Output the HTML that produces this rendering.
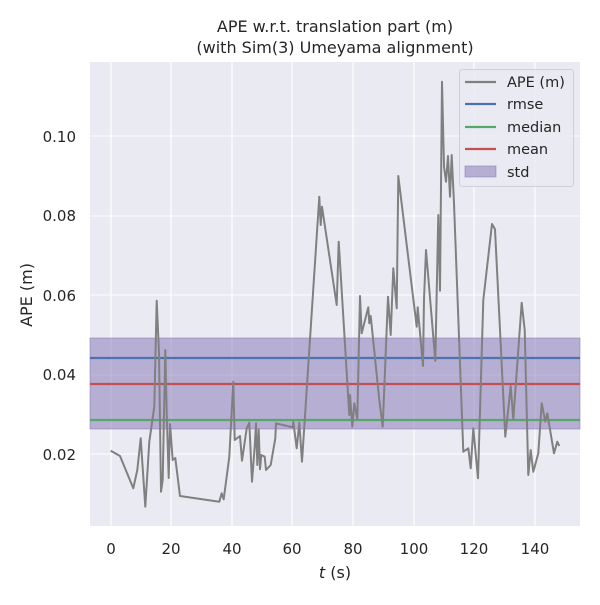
<!DOCTYPE html>
<html><head><style>body{margin:0;background:#fff}svg text{font-family:"DejaVu Sans","Liberation Sans",sans-serif}</style></head><body>
<svg width="600" height="600" xmlns="http://www.w3.org/2000/svg">
<rect x="0" y="0" width="600" height="600" fill="#fff"/>
<rect x="90" y="62" width="490" height="464" fill="#eaeaf2"/>
<g stroke="#fff" stroke-width="1.1">
<line x1="111" y1="62" x2="111" y2="526"/><line x1="171" y1="62" x2="171" y2="526"/><line x1="232" y1="62" x2="232" y2="526"/><line x1="292" y1="62" x2="292" y2="526"/><line x1="353" y1="62" x2="353" y2="526"/><line x1="414" y1="62" x2="414" y2="526"/><line x1="474" y1="62" x2="474" y2="526"/><line x1="535" y1="62" x2="535" y2="526"/>
<line x1="90" y1="454" x2="580" y2="454"/><line x1="90" y1="375" x2="580" y2="375"/><line x1="90" y1="295" x2="580" y2="295"/><line x1="90" y1="216" x2="580" y2="216"/><line x1="90" y1="136" x2="580" y2="136"/>
</g>
<rect x="90" y="338" width="490" height="91" fill="#8172b3" fill-opacity="0.5" stroke="#8172b3" stroke-opacity="0.5"/>
<line x1="90" y1="358" x2="580" y2="358" stroke="#4c72b0" stroke-width="2.2"/>
<line x1="90" y1="420" x2="580" y2="420" stroke="#55a868" stroke-width="2.2"/>
<line x1="90" y1="384" x2="580" y2="384" stroke="#c44e52" stroke-width="2.2"/>
<polyline fill="none" stroke="#808080" stroke-width="2" stroke-linejoin="round" points="110.7,450.7 120,456 133.3,488.3 137.3,470 140.7,438.3 145.3,506.7 149.3,441.7 154.3,406.7 156.7,300.7 159,353 161,491.7 162.7,480 165.3,350 166.7,413 168.7,478 170,424 172.7,460 175.3,458 180,496 219.3,501.7 221.7,493.3 223.7,499.3 229.3,456.7 233.3,381.7 234.7,440 240,436 242,460.7 246.7,428.3 249.3,422.7 252,481.7 254.7,446.7 256,423.3 257.3,465 258.7,429.3 260,469.3 261.3,455 264.7,456.7 266,470 270.7,465 275.3,438.3 276,423.3 292.7,427.3 293.3,421.7 296.7,448.3 299.3,422.7 302,461.7 319.3,196.7 320.7,225 322,206.7 336.7,305 338.7,241.7 349.3,415 350,395 352.3,426.7 354.3,403.3 357.3,419.3 360,296 361.7,333.3 368.3,307.3 369.3,323.3 370.7,316 379.3,400 382.7,426.7 388,296.7 390.7,335 393.3,268.3 396.7,308.3 398.3,176 416.7,326.7 417.7,307.3 423,366 424,299.3 426,250 435.3,360.7 438.3,215 440,290.7 442,81.7 444,166.7 446,181.7 448,156 450,196.7 451.7,155 454,203.3 463.3,451.7 468.3,448.3 470.7,468.3 473.3,428.3 478,478.3 483.3,300 492,224 495,229.3 505.3,436.7 510.7,386 513.3,419.3 521.7,302.7 524.7,330 528.3,475 530.7,450 533.3,471.7 538.3,453.3 541.7,403.3 545.3,421.7 547.3,413.3 554,453.3 557.3,441.7 559.3,446"/>
<g font-size="15" fill="#262626" text-anchor="middle">
<text x="111" y="554">0</text><text x="171" y="554">20</text><text x="232" y="554">40</text><text x="292" y="554">60</text><text x="353" y="554">80</text><text x="414" y="554">100</text><text x="474" y="554">120</text><text x="535" y="554">140</text>
</g>
<g font-size="15" fill="#262626" text-anchor="end">
<text x="76" y="460">0.02</text><text x="76" y="380">0.04</text><text x="76" y="301">0.06</text><text x="76" y="221">0.08</text><text x="76" y="142">0.10</text>
</g>
<text x="335" y="578" font-size="16" fill="#262626" text-anchor="middle"><tspan font-style="italic">t</tspan> (s)</text>
<text transform="translate(32,295) rotate(-90)" font-size="16" fill="#262626" text-anchor="middle">APE (m)</text>
<text x="335" y="32" font-size="16" fill="#262626" text-anchor="middle">APE w.r.t. translation part (m)</text>
<text x="335" y="53" font-size="16" fill="#262626" text-anchor="middle">(with Sim(3) Umeyama alignment)</text>
<rect x="459.5" y="69.5" width="114" height="117" rx="3" fill="#eaeaf2" fill-opacity="0.8" stroke="#d0d0d8"/>
<g stroke-width="2.2">
<line x1="465" y1="82" x2="496" y2="82" stroke="#808080"/>
<line x1="465" y1="104" x2="496" y2="104" stroke="#4c72b0"/>
<line x1="465" y1="127" x2="496" y2="127" stroke="#55a868"/>
<line x1="465" y1="149" x2="496" y2="149" stroke="#c44e52"/>
</g>
<rect x="465" y="166" width="31" height="11" fill="#8172b3" fill-opacity="0.5" stroke="#8172b3" stroke-opacity="0.5"/>
<g font-size="14.5" fill="#262626">
<text x="507" y="87">APE (m)</text><text x="507" y="109">rmse</text><text x="507" y="132">median</text><text x="507" y="154">mean</text><text x="507" y="177">std</text>
</g>
</svg>
</body></html>
